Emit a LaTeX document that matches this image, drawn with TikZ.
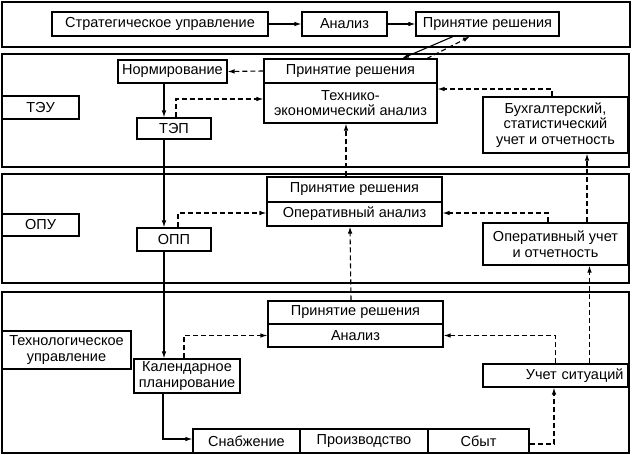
\documentclass[tikz,border=0pt]{standalone}
\usepackage{fontspec}
\setmainfont{Liberation Sans}
\usetikzlibrary{arrows.meta}
\begin{document}
\begin{tikzpicture}[x=1pt,y=-1pt,
  band/.style={draw, line width=1.2pt, inner sep=0pt},
  box/.style={draw, line width=1.1pt, inner sep=0pt, align=center, font=\fontsize{14.5}{15.5}\selectfont},
  sol/.style={line width=1.1pt, -{Latex[length=7pt,width=4.5pt]}},
  dsh/.style={sol, dash pattern=on 5pt off 3pt}]
\useasboundingbox (0,0) rectangle (632,455);
% bands
\node[band, minimum width=628, minimum height=45] (b1) at (316,24.5) {};
\node[band, minimum width=627, minimum height=113] (b2) at (315.5,110.5) {};
\node[band, minimum width=627, minimum height=109] (b3) at (315.5,228.5) {};
\node[band, minimum width=627, minimum height=161] (b4) at (315.5,372.5) {};
% band 1
\node[box, minimum width=216, minimum height=24] (strat) at (160,24) {Стратегическое управление};
\node[box, minimum width=85, minimum height=24] (an1) at (344.5,24) {Анализ};
\node[box, minimum width=143, minimum height=24] (pr1) at (487.5,24) {Принятие решения};
% band 2
\node[box, minimum width=109, minimum height=23] (norm) at (172.5,71.5) {Нормирование};
\node[box, minimum width=77, minimum height=23] (teu) at (40.5,107.5) {ТЭУ};
\node[box, minimum width=74, minimum height=21] (tep) at (174,128.5) {ТЭП};
\node[box, minimum width=173, minimum height=24] (pr2) at (350.5,71) {Принятие решения};
\node[box, minimum width=173, minimum height=40] (tea) at (350.5,103) {Технико-\\экономический анализ};
\node[box, minimum width=145, minimum height=56] (buh) at (555.5,125) {Бухгалтерский,\\статистический\\учет и отчетность};
% band 3
\node[box, minimum width=77, minimum height=22] (opu) at (40.5,225) {ОПУ};
\node[box, minimum width=74, minimum height=23] (opp) at (174,239.5) {ОПП};
\node[box, minimum width=175, minimum height=25] (pr3) at (354.5,189.5) {Принятие решения};
\node[box, minimum width=175, minimum height=24] (oa) at (354.5,214) {Оперативный анализ};
\node[box, minimum width=145, minimum height=42] (ou) at (555.5,244) {Оперативный учет\\и отчетность};
% band 4
\node[box, minimum width=129, minimum height=38] (tech) at (66.5,350) {Технологическое\\управление};
\node[box, minimum width=106, minimum height=34] (kal) at (187,376) {Календарное\\планирование};
\node[box, minimum width=175, minimum height=23] (pr4) at (355.5,312.5) {Принятие решения};
\node[box, minimum width=175, minimum height=23] (an4) at (355.5,335.5) {Анализ};
\node[box, minimum width=145, minimum height=23, text width=136pt, align=right] (us) at (555.5,375.5) {Учет ситуаций};
\node[box, minimum width=107, minimum height=24] (snab) at (246.5,441) {Снабжение};
\node[box, minimum width=128, minimum height=24] (proizv) at (364,441) {Производство};
\node[box, minimum width=101, minimum height=24] (sbyt) at (478.5,441) {Сбыт};
% connectors
\draw[sol] (strat) -- (an1);
\draw[sol] (an1) -- (pr1);
\draw[sol] ([xshift=-34.5pt]pr1.south) -- ([xshift=51.5pt]pr2.north);
\draw[dsh] ([xshift=76.5pt]pr2.north) -- ([xshift=-17.5pt]pr1.south);
\draw[dsh] (pr2.west) -- (norm.east);
\draw[sol] ([xshift=-8.5pt]norm.south) -- ([xshift=-10pt]tep.north);
\draw[dsh] ([xshift=2pt]tep.north) |- ([yshift=4pt]tea.west);
\draw[sol] ([xshift=-10pt]tep.south) -- ([xshift=-10pt]opp.north);
\draw[dsh] ([xshift=-3.5pt]buh.north) |- ([yshift=14pt]tea.east);
\draw[dsh] ([xshift=-8.5pt]pr3.north) -- ([xshift=-4.5pt]tea.south);
\draw[dsh] ([xshift=4pt]opp.north) |- ([yshift=1pt]oa.west);
\draw[dsh] ([xshift=-7.5pt]ou.north) |- ([yshift=1pt]oa.east);
\draw[dsh] ([xshift=31.5pt]ou.north) -- ([xshift=31.5pt]buh.south);
\draw[sol] ([xshift=-10pt]opp.south) -- ([xshift=-23pt]kal.north);
\draw[dsh] ([xshift=-4.5pt]pr4.north) -- ([xshift=-4.5pt]oa.south);
\draw[dsh] ([xshift=-3pt]kal.north) |- (an4.west);
\draw[dsh] (us.north) |- (an4.east);
\draw[dsh] ([xshift=34pt]us.north) -- ([xshift=34pt]ou.south);
\draw[sol] ([xshift=-24pt]kal.south) |- ([yshift=2pt]snab.west);
\draw[dsh] ([yshift=-3pt]sbyt.east) -| ([xshift=-1.5pt]us.south);
\end{tikzpicture}
\end{document}
